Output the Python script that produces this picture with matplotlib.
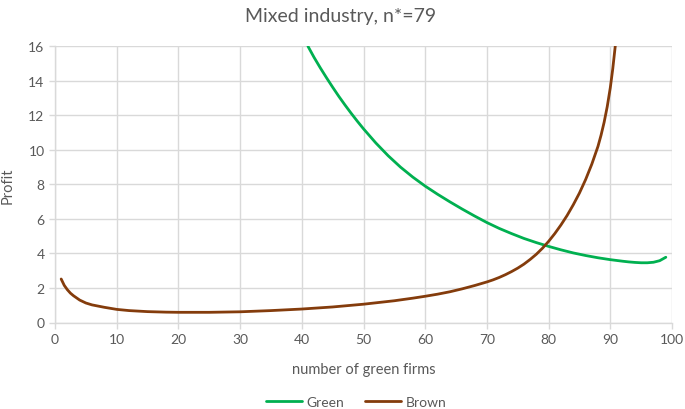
import numpy as np
import matplotlib as mpl
mpl.use("Agg")
import matplotlib.pyplot as plt

plt.rcParams['font.family'] = ['Lato', 'DejaVu Sans']

# profit curves
green_n = [41, 42, 43, 44, 45, 46, 47, 48, 49, 50, 52, 54, 56, 58, 60, 62, 64,
           66, 68, 70, 72, 74, 76, 78, 80, 82, 84, 86, 88, 90, 92, 93, 94, 95,
           96, 97, 98, 99]
green_profit = [16.0, 15.35, 14.75, 14.18, 13.63, 13.1, 12.6, 12.12, 11.66,
                11.22, 10.4, 9.66, 9.0, 8.42, 7.9, 7.43, 6.99, 6.57, 6.17, 5.79,
                5.45, 5.15, 4.87, 4.63, 4.41, 4.21, 4.03, 3.88, 3.75, 3.64, 3.55,
                3.51, 3.48, 3.46, 3.46, 3.49, 3.58, 3.78]

brown_n = [1, 1.5, 2, 2.5, 3, 4, 5, 6, 8, 10, 12, 15, 18, 20, 25, 30, 35, 40,
           45, 50, 55, 58, 60, 62, 64, 66, 68, 70, 71, 72, 73, 74, 75, 76, 77,
           78, 79, 80, 81, 82, 83, 84, 85, 86, 87, 88, 88.5, 89, 89.5, 90,
           90.4, 90.8, 91.1]
brown_profit = [2.52, 2.15, 1.9, 1.7, 1.55, 1.3, 1.13, 1.02, 0.88, 0.76, 0.69,
                0.63, 0.6, 0.59, 0.59, 0.62, 0.69, 0.78, 0.9, 1.06, 1.26, 1.41,
                1.52, 1.64, 1.78, 1.95, 2.14, 2.35, 2.47, 2.61, 2.77, 2.95, 3.15,
                3.38, 3.65, 3.95, 4.3, 4.7, 5.15, 5.65, 6.2, 6.82, 7.5, 8.28,
                9.17, 10.2, 10.85, 11.6, 12.5, 13.6, 14.7, 16.0, 17.0]

x_ticks = np.arange(0, 101, 10)
y_ticks = np.arange(0, 17, 2)

grey = '#595959'
grid_col = '#d9d9d9'

fig = plt.figure(figsize=(6.85, 4.1), dpi=100)
ax = fig.add_axes([55/685, 1 - 323.5/410, (672 - 55)/685, (323.5 - 47.3)/410])

ax.plot(green_n, green_profit, color='#00b050', lw=2.0, label='Green',
        solid_capstyle='round', solid_joinstyle='round')
ax.plot(brown_n, brown_profit, color='#843c0c', lw=2.0, label='Brown',
        solid_capstyle='round', solid_joinstyle='round')

ax.set_xlim(0, 100)
ax.set_ylim(0, 16)
ax.set_xticks(x_ticks)
ax.set_yticks(y_ticks)
ax.grid(True, color=grid_col, lw=1.0)
ax.set_axisbelow(True)

for s in ['top', 'right']:
    ax.spines[s].set_visible(False)
for s in ['left', 'bottom']:
    ax.spines[s].set_color(grid_col)
    ax.spines[s].set_linewidth(1.0)

ax.tick_params(axis='both', colors=grey, labelsize=10, length=4, width=1.0,
               direction='out')
ax.tick_params(axis='both', color=grid_col)

ax.set_xlabel('number of green firms', fontsize=10.5, color=grey, labelpad=12)
ax.set_ylabel('Profit', fontsize=10.5, color=grey, labelpad=10)
fig.text(0.497, 0.96, 'Mixed industry, n*=79', fontsize=14, color=grey,
         ha='center', va='center')

leg = fig.legend(loc='center', bbox_to_anchor=(0.52, 0.018), ncol=2,
                 frameon=False, fontsize=10, handlelength=2.6,
                 handletextpad=0.3, columnspacing=1.5)
for t in leg.get_texts():
    t.set_color(grey)

fig.savefig('out.png', dpi=100)
